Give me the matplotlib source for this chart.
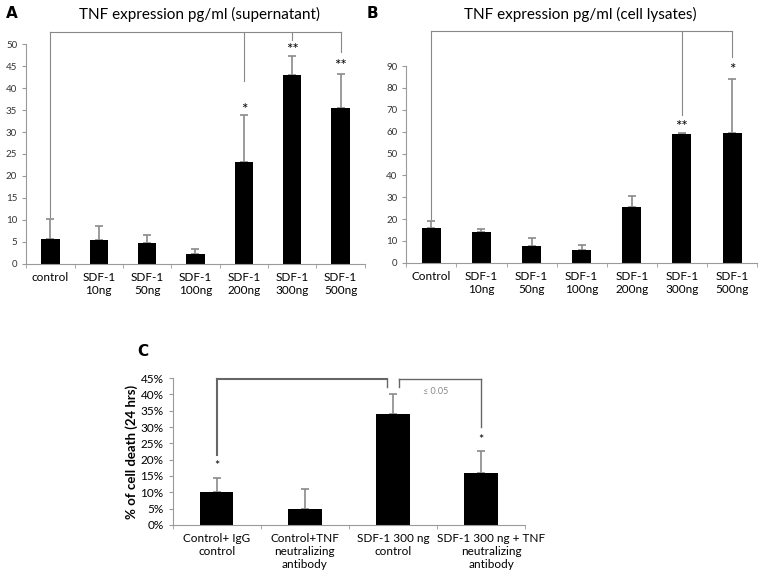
import matplotlib
matplotlib.use("Agg")
import matplotlib.pyplot as plt
import matplotlib.transforms as mtransforms
from matplotlib.ticker import FixedLocator, PercentFormatter

plt.rcParams["font.family"] = ["Lato", "DejaVu Sans"]

# Panel A - supernatant
cats_a = ["control", "SDF-1\n10ng", "SDF-1\n50ng", "SDF-1\n100ng", "SDF-1\n200ng", "SDF-1\n300ng", "SDF-1\n500ng"]
vals_a = [5.6, 5.4, 4.8, 2.2, 23.2, 43.0, 35.4]
errs_a = [4.6, 3.2, 1.8, 1.3, 10.7, 4.4, 7.9]

# Panel B - cell lysates
cats_b = ["Control", "SDF-1\n10ng", "SDF-1\n50ng", "SDF-1\n100ng", "SDF-1\n200ng", "SDF-1\n300ng", "SDF-1\n500ng"]
vals_b = [16.0, 14.2, 7.6, 6.0, 25.3, 59.0, 59.5]
errs_b = [3.3, 1.4, 3.6, 2.2, 5.2, 0.5, 24.5]

# Panel C - cell death
cats_c = ["Control+ IgG\ncontrol", "Control+TNF\nneutralizing\nantibody",
          "SDF-1 300 ng\ncontrol", "SDF-1 300 ng + TNF\nneutralizing\nantibody"]
vals_c = [10.0, 5.0, 34.0, 16.0]
errs_c = [4.3, 6.0, 6.0, 6.8]

fig = plt.figure(figsize=(7.71, 5.8), dpi=100)
ax_a = fig.add_axes([0.034, 0.545, 0.439, 0.379])
ax_b = fig.add_axes([0.527, 0.547, 0.455, 0.339])
ax_c = fig.add_axes([0.224, 0.095, 0.457, 0.253])

spine_col = "#9a9a9a"
err_col = "#8a8a8a"


def style(ax, n):
    for s in ["top", "right"]:
        ax.spines[s].set_visible(False)
    for s in ["left", "bottom"]:
        ax.spines[s].set_color(spine_col)
        ax.spines[s].set_linewidth(0.8)
    ax.set_xlim(-0.5, n - 0.5)
    ax.xaxis.set_minor_locator(FixedLocator([i - 0.5 for i in range(n + 1)]))
    ax.tick_params(axis="x", which="major", length=0, pad=6)
    ax.tick_params(axis="x", which="minor", length=3, color=spine_col)
    ax.tick_params(axis="y", length=3, color=spine_col)


def bars(ax, vals, errs, width):
    x = range(len(vals))
    ax.bar(x, vals, width=width, color="black", zorder=2)
    ax.errorbar(x, vals, yerr=[[0] * len(errs), errs], fmt="none",
                ecolor=err_col, elinewidth=1.2, capsize=3, capthick=1.2, zorder=1)


# Panel A
bars(ax_a, vals_a, errs_a, 0.38)
style(ax_a, len(vals_a))
ax_a.set_ylim(0, 50)
ax_a.set_yticks(range(0, 51, 5))
ax_a.set_xticks(range(len(cats_a)))
ax_a.set_xticklabels(cats_a, fontsize=8.5)
ax_a.tick_params(axis="y", labelsize=7, labelcolor="#333333")
br = 52.7
ax_a.plot([0, 6], [br, br], color="#888888", lw=0.8, clip_on=False)
ax_a.plot([0, 0], [br, 10.6], color="#888888", lw=0.8, clip_on=False)
ax_a.plot([4, 4], [br, 41.6], color="#888888", lw=0.8, clip_on=False)
ax_a.plot([5, 5], [br, 50.9], color="#888888", lw=0.8, clip_on=False)
ax_a.plot([6, 6], [br, 48.2], color="#888888", lw=0.8, clip_on=False)
ax_a.text(4, 35.0, "*", ha="center", va="center", fontsize=11)
ax_a.text(5, 48.6, "**", ha="center", va="center", fontsize=11, clip_on=False)
ax_a.text(6, 45.1, "**", ha="center", va="center", fontsize=11)

# Panel B
bars(ax_b, vals_b, errs_b, 0.38)
style(ax_b, len(vals_b))
ax_b.set_ylim(0, 90)
ax_b.set_yticks(range(0, 91, 10))
ax_b.set_xticks(range(len(cats_b)))
ax_b.set_xticklabels(cats_b, fontsize=8.5)
ax_b.tick_params(axis="y", labelsize=7, labelcolor="#333333")
brb = 106
ax_b.plot([0, 6], [brb, brb], color="#888888", lw=0.8, clip_on=False)
ax_b.plot([0, 0], [brb, 19.8], color="#888888", lw=0.8, clip_on=False)
ax_b.plot([5, 5], [brb, 67.6], color="#888888", lw=0.8, clip_on=False)
ax_b.plot([6, 6], [brb, 94], color="#888888", lw=0.8, clip_on=False)
ax_b.text(5, 62.0, "**", ha="center", va="center", fontsize=11)
ax_b.text(6, 88.0, "*", ha="center", va="center", fontsize=11)

# Panel C
bars(ax_c, vals_c, errs_c, 0.38)
style(ax_c, len(vals_c))
ax_c.set_ylim(0, 45)
ax_c.set_yticks(range(0, 46, 5))
ax_c.yaxis.set_major_formatter(PercentFormatter(decimals=0))
ax_c.set_xticks(range(len(cats_c)))
ax_c.set_xticklabels(cats_c, fontsize=8.5)
# the long last label sits a little to the right, as in the source chart
last = ax_c.get_xticklabels()[-1]
last.set_transform(last.get_transform() + mtransforms.ScaledTranslation(0.1, 0, fig.dpi_scale_trans))
ax_c.tick_params(axis="y", labelsize=8.5)
ax_c.set_ylabel("% of cell death (24 hrs)", fontsize=9.5, fontweight="bold", labelpad=2)
bc = 44.7
bcol = "#666666"
ax_c.plot([0, 1.93], [bc, bc], color=bcol, lw=1.5, clip_on=False)
ax_c.plot([2.07, 3], [bc, bc], color=bcol, lw=1.0, clip_on=False)
ax_c.plot([0, 0], [bc, 21.4], color=bcol, lw=1.5, clip_on=False)
ax_c.plot([1.93, 1.93], [bc, 42.4], color=bcol, lw=1.0, clip_on=False)
ax_c.plot([2.07, 2.07], [bc, 42.4], color=bcol, lw=1.0, clip_on=False)
ax_c.plot([3, 3], [bc, 30.0], color=bcol, lw=1.0, clip_on=False)
ax_c.text(2.48, 41.0, "\u2264 0.05", ha="center", va="center", fontsize=6.5, color="#888888")
ax_c.text(0, 18.0, "*", ha="center", va="center", fontsize=9)
ax_c.text(3, 26.0, "*", ha="center", va="center", fontsize=9)

# titles and panel letters
fig.text(199 / 771, 1 - 14 / 580, "TNF expression pg/ml (supernatant)", ha="center", va="center", fontsize=11)
fig.text(580 / 771, 1 - 14 / 580, "TNF expression pg/ml (cell lysates)", ha="center", va="center", fontsize=11)
fig.text(12 / 771, 1 - 14 / 580, "A", ha="center", va="center", fontsize=11, fontweight="bold", family="DejaVu Sans")
fig.text(372 / 771, 1 - 14 / 580, "B", ha="center", va="center", fontsize=11, fontweight="bold", family="DejaVu Sans")
fig.text(143 / 771, 1 - 352 / 580, "C", ha="center", va="center", fontsize=11, fontweight="bold", family="DejaVu Sans")

fig.savefig("out.png", dpi=100)
